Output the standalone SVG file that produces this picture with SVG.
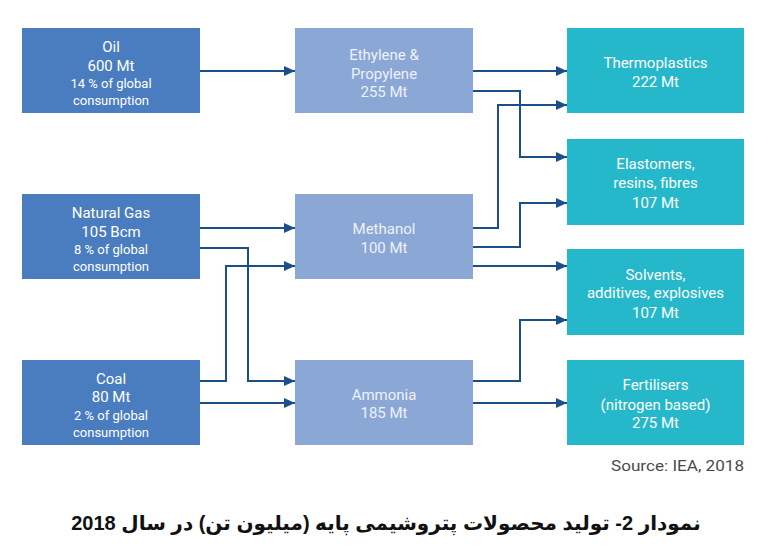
<svg xmlns="http://www.w3.org/2000/svg" width="771" height="555" viewBox="0 0 771 555">
<style>
.src{fill:#4a7dbf}
.mid{fill:#8ba7d5}
.out{fill:#25b8cb}
.t{font-family:Roboto,"Liberation Sans",sans-serif;fill:#ffffff;text-anchor:middle;font-size:15px}
.ts{font-size:13px}
.tm{fill:#eef2fa}
.con{fill:none;stroke:#1b4f89;stroke-width:2}
.src-note{font-family:Roboto,"Liberation Sans",sans-serif;font-size:14px;fill:#4a4a4a;text-anchor:end}
.cap{font-family:"Liberation Sans","DejaVu Sans",sans-serif;font-weight:bold;font-size:20px;fill:#111;text-anchor:middle}
</style>
<defs>
<marker id="ah" markerUnits="userSpaceOnUse" markerWidth="12" markerHeight="10" refX="11" refY="5" orient="auto">
<path d="M0,0 L11,5 L0,10 z" fill="#1b4f89"/>
</marker>
</defs>
<rect width="771" height="555" fill="#ffffff"/>

<g id="connectors">
<path class="con" marker-end="url(#ah)" d="M200,71 H295"/>
<path class="con" marker-end="url(#ah)" d="M473,71 H567"/>
<path class="con" marker-end="url(#ah)" d="M473,91 H520 V157 H567"/>
<path class="con" marker-end="url(#ah)" d="M473,228 H498 V105 H567"/>
<path class="con" marker-end="url(#ah)" d="M473,247 H520 V203 H567"/>
<path class="con" marker-end="url(#ah)" d="M473,266 H567"/>
<path class="con" marker-end="url(#ah)" d="M200,228 H295"/>
<path class="con" marker-end="url(#ah)" d="M200,248 H248 V381 H295"/>
<path class="con" marker-end="url(#ah)" d="M200,381 H226 V266 H295"/>
<path class="con" marker-end="url(#ah)" d="M200,403 H295"/>
<path class="con" marker-end="url(#ah)" d="M473,381 H520 V320 H567"/>
<path class="con" marker-end="url(#ah)" d="M473,403 H567"/>
</g>

<g id="oil">
<rect class="src" x="22" y="28" width="178" height="85"/>
<text class="t" x="111" y="52">Oil</text>
<text class="t" x="111" y="71">600 Mt</text>
<text class="t ts" x="111" y="88">14 % of global</text>
<text class="t ts" x="111" y="105">consumption</text>
</g>
<g id="natural-gas">
<rect class="src" x="22" y="194" width="178" height="85"/>
<text class="t" x="111" y="218">Natural Gas</text>
<text class="t" x="111" y="237">105 Bcm</text>
<text class="t ts" x="111" y="254">8 % of global</text>
<text class="t ts" x="111" y="271">consumption</text>
</g>
<g id="coal">
<rect class="src" x="22" y="360" width="178" height="85"/>
<text class="t" x="111" y="384">Coal</text>
<text class="t" x="111" y="402">80 Mt</text>
<text class="t ts" x="111" y="420">2 % of global</text>
<text class="t ts" x="111" y="437">consumption</text>
</g>

<g id="ethylene">
<rect class="mid" x="295" y="28" width="178" height="85"/>
<text class="t tm" x="384" y="60">Ethylene &amp;</text>
<text class="t tm" x="384" y="79">Propylene</text>
<text class="t tm" x="384" y="97">255 Mt</text>
</g>
<g id="methanol">
<rect class="mid" x="295" y="194" width="178" height="85"/>
<text class="t tm" x="384" y="234">Methanol</text>
<text class="t tm" x="384" y="253">100 Mt</text>
</g>
<g id="ammonia">
<rect class="mid" x="295" y="360" width="178" height="85"/>
<text class="t tm" x="384" y="400">Ammonia</text>
<text class="t tm" x="384" y="418">185 Mt</text>
</g>

<g id="thermoplastics">
<rect class="out" x="567" y="28" width="177" height="85"/>
<text class="t" x="655.5" y="68">Thermoplastics</text>
<text class="t" x="655.5" y="87">222 Mt</text>
</g>
<g id="elastomers">
<rect class="out" x="567" y="139" width="177" height="86"/>
<text class="t" x="655.5" y="169">Elastomers,</text>
<text class="t" x="655.5" y="188">resins, fibres</text>
<text class="t" x="655.5" y="208">107 Mt</text>
</g>
<g id="solvents">
<rect class="out" x="567" y="249" width="177" height="86"/>
<text class="t" x="655.5" y="280">Solvents,</text>
<text class="t" x="655.5" y="298">additives, explosives</text>
<text class="t" x="655.5" y="318">107 Mt</text>
</g>
<g id="fertilisers">
<rect class="out" x="567" y="360" width="177" height="85"/>
<text class="t" x="655.5" y="390">Fertilisers</text>
<text class="t" x="655.5" y="410">(nitrogen based)</text>
<text class="t" x="655.5" y="428">275 Mt</text>
</g>

<text class="src-note" x="744" y="471" textLength="133" lengthAdjust="spacingAndGlyphs">Source: IEA, 2018</text>
<text class="cap" x="386" y="530" direction="rtl">نمودار 2- تولید محصولات پتروشیمی پایه (میلیون تن) در سال 2018</text>
</svg>
